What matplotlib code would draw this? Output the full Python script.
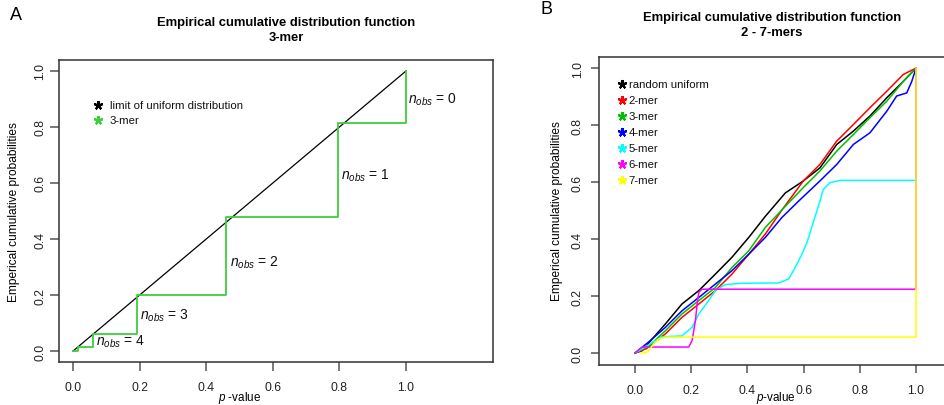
import matplotlib
matplotlib.use('Agg')
import matplotlib.pyplot as plt

plt.rcParams['font.family'] = ['Liberation Sans', 'DejaVu Sans']
plt.rcParams['mathtext.fontset'] = 'custom'
plt.rcParams['mathtext.it'] = 'Liberation Sans:italic'
plt.rcParams['mathtext.rm'] = 'Liberation Sans'

# ---------------- data ----------------
# Panel A
uniform_x = [0.0, 1.0]
uniform_y = [0.0, 1.0]
mer3_step_x = [0.0, 0.015, 0.060, 0.192, 0.459, 0.797, 1.0]
mer3_step_y = [0.0, 0.015, 0.062, 0.200, 0.477, 0.815, 1.0]
nobs_values = ['0', '1', '2', '3', '4']
nobs_x = [1.006, 0.805, 0.470, 0.200, 0.070]
nobs_y = [0.900, 0.630, 0.320, 0.128, 0.035]
legendA_labels = ['limit of uniform distribution', '3-mer']

# Panel B
rand_x = [0.0, 0.025, 0.108, 0.167, 0.227, 0.286, 0.345, 0.405, 0.464, 0.535, 0.599, 0.658, 0.718, 0.777, 0.836, 0.896, 0.955, 1.0]
rand_y = [0.0, 0.008, 0.102, 0.172, 0.219, 0.277, 0.336, 0.406, 0.480, 0.562, 0.604, 0.650, 0.732, 0.779, 0.832, 0.896, 0.954, 1.0]
mer2_x = [0.0, 0.040, 0.108, 0.167, 0.227, 0.286, 0.345, 0.405, 0.464, 0.525, 0.599, 0.658, 0.718, 0.777, 0.836, 0.896, 0.955, 1.0]
mer2_y = [0.0, 0.015, 0.067, 0.125, 0.172, 0.219, 0.277, 0.347, 0.418, 0.505, 0.604, 0.662, 0.744, 0.802, 0.861, 0.919, 0.978, 1.0]
mer3_x = [0.0, 0.050, 0.108, 0.167, 0.227, 0.286, 0.345, 0.405, 0.464, 0.530, 0.599, 0.658, 0.718, 0.777, 0.836, 0.896, 0.955, 1.0]
mer3_y = [0.0, 0.025, 0.078, 0.137, 0.184, 0.230, 0.300, 0.359, 0.441, 0.510, 0.581, 0.639, 0.709, 0.767, 0.826, 0.884, 0.954, 1.0]
mer4_x = [0.0, 0.050, 0.108, 0.167, 0.227, 0.286, 0.345, 0.405, 0.464, 0.523, 0.583, 0.658, 0.718, 0.777, 0.836, 0.896, 0.931, 0.967, 0.985, 1.0]
mer4_y = [0.0, 0.040, 0.090, 0.148, 0.195, 0.242, 0.289, 0.347, 0.406, 0.476, 0.534, 0.604, 0.662, 0.732, 0.773, 0.849, 0.902, 0.913, 0.954, 1.0]
mer5_x = [0.0, 0.096, 0.167, 0.203, 0.227, 0.262, 0.286, 0.321, 0.381, 0.511, 0.547, 0.570, 0.594, 0.612, 0.647, 0.658, 0.670, 0.694, 0.730, 1.0, 1.0]
mer5_y = [0.0, 0.057, 0.060, 0.090, 0.137, 0.184, 0.219, 0.240, 0.245, 0.246, 0.260, 0.300, 0.347, 0.388, 0.498, 0.533, 0.574, 0.598, 0.606, 0.606, 1.0]
mer6_x = [0.0, 0.025, 0.191, 0.203, 0.215, 0.221, 0.227, 0.238, 1.0, 1.0]
mer6_y = [0.0, 0.021, 0.021, 0.043, 0.113, 0.172, 0.213, 0.224, 0.224, 1.0]
mer7_x = [0.020, 0.035, 0.049, 0.066, 0.084, 0.108, 1.0, 1.0]
mer7_y = [0.0, 0.0, 0.008, 0.032, 0.049, 0.056, 0.056, 1.0]
legendB_labels = ['random uniform', '2-mer', '3-mer', '4-mer', '5-mer', '6-mer', '7-mer']
legendB_colors = ['black', '#FF0000', '#00C000', '#0000FF', '#00FFFF', '#FF00FF', '#FFFF00']

ticks = [0.0, 0.2, 0.4, 0.6, 0.8, 1.0]
tick_labels = ['0.0', '0.2', '0.4', '0.6', '0.8', '1.0']

# ---------------- layout ----------------
W, H = 945, 406
fig = plt.figure(figsize=(9.45, 4.06), dpi=100)

def fx(px):
    return px / W

def fy(py):
    return 1 - py / H

SPINE = '#333333'
TICKC = '#555555'

def style_axes(ax, tick_len, xpad, ypad):
    for s in ax.spines.values():
        s.set_color(SPINE)
        s.set_linewidth(1.1)
    ax.set_xticks(ticks)
    ax.set_xticklabels(tick_labels)
    ax.set_yticks(ticks)
    ax.set_yticklabels(tick_labels)
    ax.tick_params(axis='both', direction='out', length=tick_len, width=1.1,
                   color=TICKC, labelsize=8.8, labelcolor='#222222')
    ax.tick_params(axis='x', pad=xpad)
    ax.tick_params(axis='y', pad=ypad)
    for lab in ax.get_yticklabels():
        lab.set_rotation(90)
        lab.set_va('center')

# Panel A
axA = fig.add_axes([fx(59), fy(363), fx(493) - fx(59), fy(61) - fy(363)])
axA.set_xlim(-0.042, 1.261)
axA.set_ylim(-0.039, 1.039)
style_axes(axA, 6.5, 7.5, 2.5)
axA.plot(uniform_x, uniform_y, color='black', lw=0.9)
axA.step(mer3_step_x, mer3_step_y, where='post', color='#3CCF3C', lw=1.3)
for v, x, y in zip(nobs_values, nobs_x, nobs_y):
    axA.text(x, y, r'$n_{obs}$' + ' = ' + v, fontsize=10, ha='left', va='center', color='#111111')
legA_y = [0.879, 0.825]
for lab, c, y in zip(legendA_labels, ['black', '#3CCF3C'], legA_y):
    axA.plot([0.074], [y], marker=(5, 2, 0), color=c, markersize=6.5, mew=1.5, ls='none')
    axA.text(0.111, y, lab, fontsize=8.2, ha='left', va='center', color='#111111')

# Panel B
axB = fig.add_axes([fx(599), fy(366), 1.0 - fx(599), fy(58) - fy(366)])
axB.set_xlim(-0.128, 1.103)
axB.set_ylim(-0.042, 1.039)
style_axes(axB, 5.5, 8.5, 5.5)
axB.spines['right'].set_visible(False)
series = [(rand_x, rand_y), (mer2_x, mer2_y), (mer3_x, mer3_y), (mer4_x, mer4_y),
          (mer5_x, mer5_y), (mer6_x, mer6_y), (mer7_x, mer7_y)]
for (xs, ys), c in zip(series, legendB_colors):
    axB.plot(xs, ys, color=c, lw=1.1)
legB_y0 = 0.944
legB_dy = 0.0563
for i, (lab, c) in enumerate(zip(legendB_labels, legendB_colors)):
    y = legB_y0 - i * legB_dy
    axB.plot([-0.047], [y], marker=(5, 2, 0), color=c, markersize=6.5, mew=1.5, ls='none')
    axB.text(-0.022, y, lab, fontsize=8.2, ha='left', va='center', color='#111111')

# Titles, labels, panel letters
fig.text(fx(286), fy(23), 'Empirical cumulative distribution function', ha='center', va='center',
         weight='bold', fontsize=9.4)
fig.text(fx(286), fy(38), '3-mer', ha='center', va='center', weight='bold', fontsize=9.4)
fig.text(fx(772), fy(18), 'Empirical cumulative distribution function', ha='center', va='center',
         weight='bold', fontsize=9.4)
fig.text(fx(772), fy(33), '2 - 7-mers', ha='center', va='center', weight='bold', fontsize=9.4)
fig.text(fx(16), fy(15), 'A', ha='center', va='center', fontsize=13)
fig.text(fx(547), fy(10), 'B', ha='center', va='center', fontsize=13)

fig.text(fx(14), fy(212), 'Emperical cumulative probabilities', rotation=90, ha='center', va='center',
         fontsize=8.6)
fig.text(fx(557), fy(211.5), 'Emperical cumulative probabilities', rotation=90, ha='center', va='center',
         fontsize=8.6)
fig.text(fx(240), fy(398.5), r'$p$ -value', ha='center', va='center', fontsize=8.4)
fig.text(fx(776), fy(398.5), r'$p$-value', ha='center', va='center', fontsize=8.4)

fig.savefig('out.png', dpi=100)
